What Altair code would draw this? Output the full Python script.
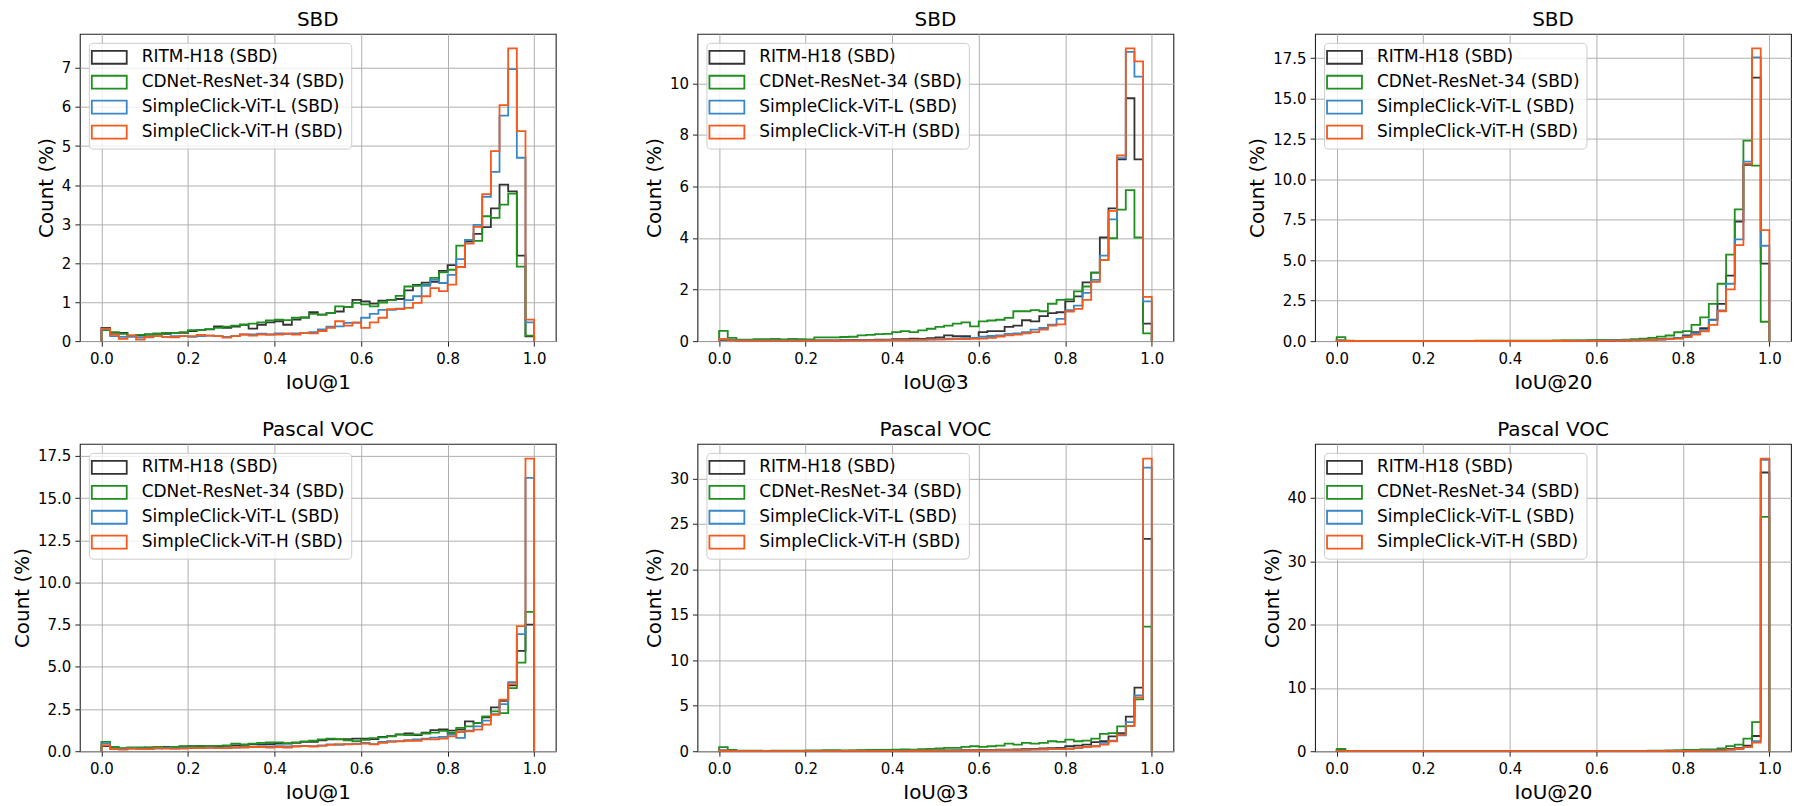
import altair as alt
import pandas as pd

SERIES = ["RITM-H18 (SBD)", "CDNet-ResNet-34 (SBD)",
          "SimpleClick-ViT-L (SBD)", "SimpleClick-ViT-H (SBD)"]
COLORS = ["#333333", "#1e901e", "#3a87c6", "#f4591d"]
BIN_EDGES = [round(i * 0.02, 2) for i in range(51)]
X_TICKS = [0.0, 0.2, 0.4, 0.6, 0.8, 1.0]

# ---- SBD, IoU@1 ----
SBD_IOU1_RITM = [0.34, 0.21, 0.21, 0.14, 0.14, 0.17, 0.19, 0.19, 0.21, 0.21,
                 0.26, 0.28, 0.30, 0.38, 0.34, 0.37, 0.42, 0.32, 0.42, 0.48,
                 0.51, 0.42, 0.55, 0.61, 0.74, 0.68, 0.72, 0.76, 0.88, 1.06,
                 1.02, 0.96, 1.04, 1.06, 1.08, 1.30, 1.44, 1.50, 1.52, 1.80,
                 1.95, 1.90, 2.55, 2.75, 2.92, 3.40, 4.01, 3.84, 2.19, 0.12]
SBD_IOU1_CDNET = [0.28, 0.23, 0.19, 0.14, 0.16, 0.17, 0.19, 0.21, 0.21, 0.23,
                  0.28, 0.28, 0.31, 0.34, 0.37, 0.40, 0.42, 0.45, 0.48, 0.53,
                  0.55, 0.54, 0.60, 0.60, 0.70, 0.68, 0.72, 0.89, 0.88, 0.98,
                  0.94, 0.89, 0.99, 1.05, 1.16, 1.40, 1.42, 1.45, 1.62, 1.76,
                  1.83, 2.45, 2.59, 2.57, 3.20, 3.16, 3.50, 3.78, 1.91, 0.14]
SBD_IOU1_VITL = [0.31, 0.13, 0.11, 0.11, 0.09, 0.10, 0.13, 0.11, 0.13, 0.13,
                 0.11, 0.13, 0.14, 0.13, 0.11, 0.13, 0.17, 0.17, 0.19, 0.17,
                 0.20, 0.19, 0.20, 0.21, 0.23, 0.30, 0.37, 0.38, 0.47, 0.47,
                 0.60, 0.70, 0.80, 0.80, 0.83, 1.05, 1.15, 1.42, 1.57, 1.49,
                 1.70, 2.10, 2.59, 2.98, 3.70, 4.34, 5.78, 6.97, 4.70, 0.48]
SBD_IOU1_VITH = [0.32, 0.17, 0.06, 0.14, 0.04, 0.11, 0.13, 0.11, 0.10, 0.13,
                 0.13, 0.16, 0.14, 0.13, 0.09, 0.13, 0.17, 0.14, 0.17, 0.17,
                 0.17, 0.19, 0.17, 0.21, 0.20, 0.26, 0.34, 0.51, 0.40, 0.48,
                 0.34, 0.48, 0.60, 0.82, 0.82, 0.85, 0.98, 1.15, 1.36, 1.28,
                 1.45, 1.90, 2.50, 2.93, 3.77, 4.87, 6.05, 7.50, 5.38, 0.55]

# ---- SBD, IoU@3 ----
SBD_IOU3_RITM = [0.05, 0.04, 0.03, 0.03, 0.03, 0.03, 0.03, 0.03, 0.03, 0.03,
                 0.03, 0.03, 0.03, 0.03, 0.04, 0.05, 0.04, 0.05, 0.06, 0.06,
                 0.08, 0.08, 0.10, 0.09, 0.12, 0.15, 0.22, 0.19, 0.19, 0.13,
                 0.35, 0.39, 0.39, 0.55, 0.60, 0.81, 0.77, 0.97, 1.09, 1.12,
                 1.54, 1.74, 2.28, 2.66, 4.02, 5.15, 7.05, 9.42, 7.05, 0.68]
SBD_IOU3_CDNET = [0.40, 0.13, 0.06, 0.06, 0.08, 0.08, 0.09, 0.07, 0.09, 0.08,
                  0.07, 0.15, 0.15, 0.15, 0.16, 0.17, 0.22, 0.24, 0.27, 0.28,
                  0.35, 0.39, 0.35, 0.42, 0.48, 0.55, 0.60, 0.68, 0.73, 0.57,
                  0.77, 0.80, 0.83, 0.90, 1.16, 1.16, 1.20, 1.16, 1.45, 1.60,
                  1.62, 1.93, 2.12, 2.66, 3.15, 3.99, 5.10, 5.86, 4.02, 0.30]
SBD_IOU3_VITL = [0.08, 0.03, 0.02, 0.02, 0.02, 0.02, 0.03, 0.02, 0.02, 0.02,
                 0.02, 0.02, 0.03, 0.02, 0.03, 0.03, 0.03, 0.04, 0.04, 0.04,
                 0.05, 0.05, 0.06, 0.06, 0.07, 0.08, 0.10, 0.10, 0.12, 0.13,
                 0.17, 0.20, 0.22, 0.28, 0.30, 0.35, 0.45, 0.51, 0.64, 0.86,
                 1.20, 1.38, 1.87, 2.38, 3.32, 4.72, 7.10, 11.22, 10.26, 1.54]
SBD_IOU3_VITH = [0.08, 0.03, 0.02, 0.02, 0.02, 0.02, 0.02, 0.02, 0.02, 0.02,
                 0.02, 0.02, 0.02, 0.02, 0.02, 0.03, 0.03, 0.03, 0.03, 0.04,
                 0.04, 0.04, 0.05, 0.05, 0.06, 0.06, 0.07, 0.08, 0.08, 0.09,
                 0.10, 0.13, 0.18, 0.22, 0.25, 0.30, 0.35, 0.45, 0.60, 0.65,
                 1.15, 1.25, 1.60, 2.30, 3.15, 5.05, 7.20, 11.35, 10.85, 1.72]

# ---- SBD, IoU@20 ----
SBD_IOU20_RITM = [0.05, 0.02, 0.01, 0.01, 0.01, 0.01, 0.01, 0.01, 0.01, 0.01,
                  0.01, 0.01, 0.01, 0.01, 0.01, 0.01, 0.01, 0.02, 0.01, 0.01,
                  0.01, 0.02, 0.02, 0.02, 0.02, 0.02, 0.03, 0.03, 0.03, 0.03,
                  0.04, 0.04, 0.05, 0.05, 0.06, 0.08, 0.10, 0.12, 0.15, 0.20,
                  0.35, 0.55, 0.80, 1.33, 2.30, 4.05, 7.40, 10.90, 16.30, 4.80]
SBD_IOU20_CDNET = [0.25, 0.03, 0.02, 0.02, 0.02, 0.02, 0.02, 0.02, 0.02, 0.02,
                   0.02, 0.02, 0.02, 0.02, 0.02, 0.02, 0.03, 0.03, 0.03, 0.03,
                   0.03, 0.03, 0.03, 0.03, 0.03, 0.05, 0.05, 0.04, 0.05, 0.06,
                   0.06, 0.06, 0.08, 0.10, 0.12, 0.15, 0.20, 0.28, 0.35, 0.55,
                   0.62, 1.00, 1.47, 2.30, 3.55, 5.35, 8.15, 12.40, 10.85, 1.20]
SBD_IOU20_VITL = [0.03, 0.01, 0.01, 0.01, 0.01, 0.01, 0.01, 0.01, 0.01, 0.01,
                  0.01, 0.01, 0.01, 0.01, 0.01, 0.01, 0.01, 0.01, 0.01, 0.01,
                  0.01, 0.01, 0.01, 0.01, 0.01, 0.01, 0.02, 0.02, 0.02, 0.02,
                  0.03, 0.03, 0.04, 0.04, 0.05, 0.06, 0.08, 0.10, 0.13, 0.18,
                  0.30, 0.50, 0.70, 1.30, 1.90, 3.55, 6.30, 11.10, 17.55, 5.90]
SBD_IOU20_VITH = [0.03, 0.01, 0.01, 0.01, 0.01, 0.01, 0.01, 0.01, 0.01, 0.01,
                  0.01, 0.01, 0.01, 0.01, 0.01, 0.01, 0.01, 0.01, 0.01, 0.01,
                  0.01, 0.01, 0.01, 0.01, 0.01, 0.01, 0.01, 0.02, 0.02, 0.02,
                  0.02, 0.03, 0.03, 0.04, 0.05, 0.06, 0.07, 0.09, 0.12, 0.16,
                  0.25, 0.40, 0.60, 1.00, 1.85, 3.20, 5.94, 10.96, 18.10, 6.86]

# ---- Pascal VOC, IoU@1 ----
VOC_IOU1_RITM = [0.30, 0.18, 0.15, 0.20, 0.20, 0.22, 0.22, 0.25, 0.25, 0.28,
                 0.30, 0.28, 0.30, 0.30, 0.32, 0.35, 0.38, 0.40, 0.40, 0.42,
                 0.45, 0.45, 0.50, 0.55, 0.55, 0.65, 0.70, 0.70, 0.72, 0.75,
                 0.75, 0.72, 0.85, 0.90, 1.00, 1.05, 0.95, 1.10, 1.25, 1.30,
                 1.22, 1.28, 1.77, 1.67, 2.00, 2.60, 2.99, 3.90, 5.95, 7.50]
VOC_IOU1_CDNET = [0.55, 0.25, 0.18, 0.22, 0.22, 0.20, 0.25, 0.22, 0.25, 0.28,
                  0.28, 0.32, 0.30, 0.32, 0.35, 0.45, 0.40, 0.45, 0.50, 0.52,
                  0.52, 0.48, 0.52, 0.58, 0.62, 0.70, 0.75, 0.72, 0.65, 0.60,
                  0.68, 0.78, 0.82, 0.88, 0.98, 0.95, 1.00, 1.05, 1.10, 1.20,
                  1.08, 1.38, 1.47, 1.67, 2.06, 2.36, 2.26, 3.74, 5.25, 8.26]
VOC_IOU1_VITL = [0.45, 0.15, 0.12, 0.15, 0.15, 0.12, 0.15, 0.18, 0.15, 0.18,
                 0.20, 0.18, 0.22, 0.20, 0.18, 0.22, 0.25, 0.25, 0.28, 0.28,
                 0.30, 0.28, 0.30, 0.32, 0.30, 0.35, 0.40, 0.38, 0.42, 0.45,
                 0.50, 0.42, 0.55, 0.60, 0.60, 0.65, 0.70, 0.75, 0.80, 0.85,
                 0.98, 0.79, 1.22, 1.47, 1.81, 2.20, 2.79, 4.09, 6.94, 16.20]
VOC_IOU1_VITH = [0.35, 0.12, 0.10, 0.15, 0.12, 0.12, 0.18, 0.15, 0.15, 0.15,
                 0.18, 0.18, 0.20, 0.18, 0.18, 0.22, 0.22, 0.25, 0.25, 0.22,
                 0.25, 0.22, 0.28, 0.30, 0.28, 0.32, 0.38, 0.42, 0.40, 0.42,
                 0.45, 0.40, 0.50, 0.55, 0.58, 0.62, 0.62, 0.70, 0.70, 0.75,
                 0.88, 1.14, 1.18, 1.28, 1.57, 2.16, 3.05, 3.97, 7.41, 17.34]

# ---- Pascal VOC, IoU@3 ----
VOC_IOU3_RITM = [0.10, 0.04, 0.03, 0.03, 0.03, 0.03, 0.03, 0.03, 0.03, 0.03,
                 0.03, 0.03, 0.04, 0.04, 0.04, 0.05, 0.05, 0.05, 0.06, 0.06,
                 0.06, 0.07, 0.07, 0.08, 0.08, 0.09, 0.10, 0.10, 0.12, 0.12,
                 0.14, 0.15, 0.17, 0.18, 0.20, 0.22, 0.25, 0.30, 0.35, 0.36,
                 0.55, 0.62, 0.73, 1.00, 1.10, 1.64, 2.00, 3.80, 7.00, 23.36]
VOC_IOU3_CDNET = [0.45, 0.15, 0.06, 0.05, 0.05, 0.04, 0.05, 0.05, 0.06, 0.07,
                  0.08, 0.10, 0.12, 0.12, 0.10, 0.10, 0.12, 0.15, 0.15, 0.15,
                  0.18, 0.20, 0.18, 0.22, 0.26, 0.30, 0.36, 0.36, 0.47, 0.55,
                  0.47, 0.55, 0.62, 0.84, 0.73, 0.91, 0.84, 0.91, 1.10, 1.02,
                  1.28, 1.10, 1.17, 1.39, 1.90, 2.00, 2.74, 2.80, 5.70, 13.70]
VOC_IOU3_VITL = [0.08, 0.03, 0.02, 0.02, 0.02, 0.03, 0.02, 0.02, 0.02, 0.02,
                 0.02, 0.02, 0.02, 0.03, 0.03, 0.03, 0.03, 0.03, 0.04, 0.04,
                 0.04, 0.05, 0.05, 0.05, 0.06, 0.06, 0.07, 0.08, 0.08, 0.09,
                 0.10, 0.11, 0.12, 0.14, 0.15, 0.17, 0.20, 0.22, 0.25, 0.28,
                 0.29, 0.36, 0.47, 0.55, 0.91, 1.17, 1.75, 3.20, 6.13, 31.20]
VOC_IOU3_VITH = [0.05, 0.02, 0.02, 0.02, 0.02, 0.02, 0.02, 0.02, 0.02, 0.02,
                 0.02, 0.02, 0.02, 0.02, 0.03, 0.03, 0.03, 0.03, 0.03, 0.04,
                 0.04, 0.04, 0.05, 0.05, 0.05, 0.06, 0.06, 0.07, 0.08, 0.08,
                 0.09, 0.10, 0.11, 0.12, 0.13, 0.15, 0.17, 0.19, 0.22, 0.24,
                 0.26, 0.36, 0.47, 0.55, 0.73, 1.10, 1.82, 2.80, 5.90, 32.20]

# ---- Pascal VOC, IoU@20 ----
VOC_IOU20_RITM = [0.10, 0.03, 0.01, 0.01, 0.01, 0.01, 0.01, 0.01, 0.01, 0.01,
                  0.01, 0.01, 0.01, 0.01, 0.01, 0.01, 0.01, 0.01, 0.01, 0.01,
                  0.01, 0.01, 0.01, 0.01, 0.01, 0.02, 0.02, 0.02, 0.02, 0.02,
                  0.02, 0.02, 0.03, 0.03, 0.03, 0.04, 0.05, 0.06, 0.07, 0.08,
                  0.10, 0.12, 0.15, 0.15, 0.25, 0.35, 0.50, 0.90, 2.40, 44.00]
VOC_IOU20_CDNET = [0.35, 0.05, 0.02, 0.02, 0.02, 0.02, 0.02, 0.02, 0.02, 0.02,
                   0.02, 0.02, 0.02, 0.02, 0.03, 0.03, 0.03, 0.03, 0.03, 0.03,
                   0.03, 0.03, 0.03, 0.03, 0.03, 0.04, 0.04, 0.04, 0.04, 0.04,
                   0.04, 0.04, 0.05, 0.05, 0.06, 0.06, 0.10, 0.10, 0.15, 0.15,
                   0.20, 0.20, 0.30, 0.30, 0.45, 0.80, 1.05, 2.00, 4.60, 37.00]
VOC_IOU20_VITL = [0.05, 0.02, 0.01, 0.01, 0.01, 0.01, 0.01, 0.01, 0.01, 0.01,
                  0.01, 0.01, 0.01, 0.01, 0.01, 0.01, 0.01, 0.01, 0.01, 0.01,
                  0.01, 0.01, 0.01, 0.01, 0.01, 0.01, 0.01, 0.01, 0.01, 0.01,
                  0.01, 0.01, 0.02, 0.02, 0.02, 0.02, 0.03, 0.03, 0.04, 0.04,
                  0.05, 0.07, 0.08, 0.10, 0.15, 0.25, 0.40, 0.70, 1.60, 46.00]
VOC_IOU20_VITH = [0.05, 0.02, 0.01, 0.01, 0.01, 0.01, 0.01, 0.01, 0.01, 0.01,
                  0.01, 0.01, 0.01, 0.01, 0.01, 0.01, 0.01, 0.01, 0.01, 0.01,
                  0.01, 0.01, 0.01, 0.01, 0.01, 0.01, 0.01, 0.01, 0.01, 0.01,
                  0.01, 0.01, 0.02, 0.02, 0.02, 0.02, 0.03, 0.03, 0.04, 0.04,
                  0.05, 0.06, 0.08, 0.10, 0.15, 0.25, 0.35, 0.65, 1.35, 46.20]

PANELS = [
    ("SBD", "IoU@1", [SBD_IOU1_RITM, SBD_IOU1_CDNET, SBD_IOU1_VITL, SBD_IOU1_VITH],
     [0, 1, 2, 3, 4, 5, 6, 7], "d"),
    ("SBD", "IoU@3", [SBD_IOU3_RITM, SBD_IOU3_CDNET, SBD_IOU3_VITL, SBD_IOU3_VITH],
     [0, 2, 4, 6, 8, 10], "d"),
    ("SBD", "IoU@20", [SBD_IOU20_RITM, SBD_IOU20_CDNET, SBD_IOU20_VITL, SBD_IOU20_VITH],
     [0, 2.5, 5, 7.5, 10, 12.5, 15, 17.5], ".1f"),
    ("Pascal VOC", "IoU@1", [VOC_IOU1_RITM, VOC_IOU1_CDNET, VOC_IOU1_VITL, VOC_IOU1_VITH],
     [0, 2.5, 5, 7.5, 10, 12.5, 15, 17.5], ".1f"),
    ("Pascal VOC", "IoU@3", [VOC_IOU3_RITM, VOC_IOU3_CDNET, VOC_IOU3_VITL, VOC_IOU3_VITH],
     [0, 5, 10, 15, 20, 25, 30], "d"),
    ("Pascal VOC", "IoU@20", [VOC_IOU20_RITM, VOC_IOU20_CDNET, VOC_IOU20_VITL, VOC_IOU20_VITH],
     [0, 10, 20, 30, 40], "d"),
]

FONT = "DejaVu Sans"
RECT_PATH = "M-2.333,-0.867L2.333,-0.867L2.333,0.867L-2.333,0.867Z"


def make_panel(title, xlab, series_vals, yticks, yfmt):
    rows = []
    for name, h in zip(SERIES, series_vals):
        pts = [(BIN_EDGES[0], 0.0)] + list(zip(BIN_EDGES[:-1], h)) + [(BIN_EDGES[-1], 0.0)]
        for k, (x, y) in enumerate(pts):
            rows.append({"series": name, "k": k, "x": x, "y": y})
    df = pd.DataFrame(rows)
    ymax = max(max(h) for h in series_vals) * 1.05

    base = alt.Chart(df)
    layers = []
    for name in SERIES:
        layers.append(
            base.transform_filter(alt.datum.series == name)
            .mark_line(interpolate="step-after", strokeWidth=1.8)
            .encode(
                x=alt.X("x:Q",
                        scale=alt.Scale(domain=[-0.05, 1.05], nice=False, zero=False),
                        axis=alt.Axis(values=X_TICKS, format=".1f", title=xlab)),
                y=alt.Y("y:Q",
                        scale=alt.Scale(domain=[0, ymax], nice=False),
                        axis=alt.Axis(values=yticks, format=yfmt, title="Count (%)")),
                color=alt.Color("series:N",
                                scale=alt.Scale(domain=SERIES, range=COLORS),
                                legend=alt.Legend(title=None, labelLimit=0)),
                order=alt.Order("k:Q"),
            )
        )
    return alt.layer(*layers).properties(
        width=477, height=308,
        title=alt.TitleParams(title, fontSize=20, fontWeight="normal", font=FONT,
                              offset=4, color="black"),
    )


panels = [make_panel(*p) for p in PANELS]

chart = (
    alt.concat(*panels, columns=3, spacing={"row": 103, "column": 142}, bounds="flush")
    .resolve_scale(color="independent", x="independent", y="independent")
    .resolve_legend(color="independent")
    .properties(padding={"left": 4, "top": 0, "right": 0, "bottom": 0})
    .configure(font=FONT)
    .configure_title(fontWeight="normal", fontSize=20, font=FONT, color="black")
    .configure_view(stroke="#222222", strokeWidth=1.1)
    .configure_axis(domain=False, grid=True, gridColor="#b0b0b0", gridWidth=1,
                    tickColor="#222222", tickSize=5, tickWidth=1,
                    labelFontSize=15, labelColor="black", labelFont=FONT,
                    titleFontSize=20, titleFontWeight="normal", titleColor="black",
                    titleFont=FONT, labelPadding=4)
    .configure_axisX(titlePadding=6, labelPadding=5)
    .configure_axisY(titlePadding=5)
    .configure_legend(orient="top-left", offset=9, padding=6,
                      fillColor="rgba(255,255,255,0.8)", strokeColor="#cccccc",
                      cornerRadius=4, labelFontSize=17, labelFont=FONT,
                      labelColor="black", labelLimit=0, symbolType=RECT_PATH,
                      symbolSize=225, symbolStrokeWidth=1.8, symbolOffset=6,
                      labelOffset=24, rowPadding=4, symbolFillColor="transparent")
)

chart.save("out.html", embed_options={"renderer": "svg", "actions": False})
